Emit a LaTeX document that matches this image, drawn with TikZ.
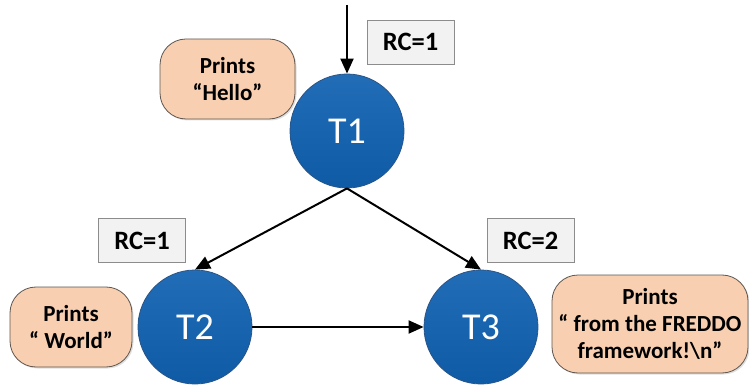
\documentclass[tikz,border=0pt]{standalone}
\usepackage{fontspec}
\setmainfont{Carlito}
\usetikzlibrary{arrows.meta,shadows}
\definecolor{taskblue}{HTML}{0F60B0}
\definecolor{taskedge}{HTML}{2A5588}
\definecolor{notefill}{HTML}{F8CFB0}
\definecolor{noteedge}{HTML}{5E5650}
\definecolor{rcfill}{HTML}{F2F2F2}
\definecolor{rcedge}{HTML}{8C8C8C}
\tikzset{
  task/.style={circle, minimum size=114pt, inner sep=0pt, draw=taskedge, line width=0.8pt,
    top color=taskblue!92!white, bottom color=taskblue!94!black, text=white, font=\fontsize{38}{40}\selectfont},
  note/.style={rounded corners=26pt, draw=noteedge, line width=0.8pt, fill=notefill,
    align=center, font=\bfseries\fontsize{23}{27}\selectfont, inner sep=0pt,
    drop shadow={shadow xshift=1.5pt, shadow yshift=-1.5pt, opacity=0.25}},
  rc/.style={draw=rcedge, line width=0.8pt, fill=rcfill, minimum width=87pt, minimum height=44pt,
    inner sep=0pt, font=\bfseries\fontsize{26.5}{30}\selectfont},
  flow/.style={line width=2pt, -{Triangle[length=15pt,width=13pt]}}
}
\begin{document}
\begin{tikzpicture}[x=1pt,y=-1pt]
\useasboundingbox (0,0) rectangle (749,387);
% tasks
\node[task] (t1) at (347,131) {T1};
\node[task] (t2) at (195,327) {T2};
\node[task] (t3) at (481,327) {T3};
% reference-count boxes
\node[rc] (rc1) at (410.5,42) {RC=1};
\node[rc] (rc2) at (142,240.5) {RC=1};
\node[rc] (rc3) at (530.5,240.5) {RC=2};
% print notes
\node[note, minimum width=135pt, minimum height=80pt] (n1) at (227.5,79) {Prints\\“Hello”};
\node[note, minimum width=122pt, minimum height=80pt] (n2) at (71,327) {Prints\\“ World”};
\node[note, minimum width=196pt, minimum height=98pt] (n3) at (650,324) {Prints\\“ from the FREDDO\\framework!\textbackslash n”};
% entry point
\coordinate (start) at (347,5);
% dependencies
\draw[flow] (start) -- (t1.north);
\draw[flow] (t1.south) -- (t2.north);
\draw[flow] (t1.south) -- (t3.north);
\draw[flow] (t2.east) -- (t3.west);
\end{tikzpicture}
\end{document}
